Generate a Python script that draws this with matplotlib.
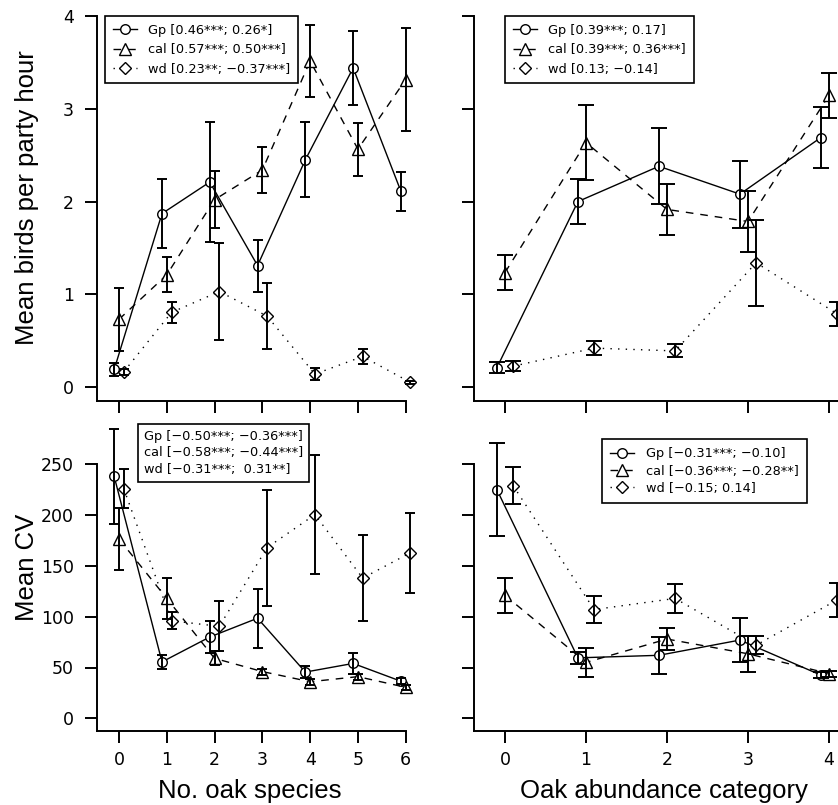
import numpy as np
import matplotlib
matplotlib.use("Agg")
import matplotlib.pyplot as plt
from matplotlib.lines import Line2D

W, H = 838, 805

# x categories
n_species = np.arange(7)
abund_cat = np.arange(5)

# mean birds per party hour vs no. oak species
sp_gp = [0.19, 1.87, 2.21, 1.31, 2.45, 3.44, 2.11]
sp_gp_se = [0.07, 0.37, 0.645, 0.28, 0.405, 0.395, 0.21]
sp_cal = [0.73, 1.21, 2.02, 2.34, 3.515, 2.565, 3.315]
sp_cal_se = [0.34, 0.19, 0.31, 0.25, 0.385, 0.285, 0.555]
sp_wd = [0.165, 0.805, 1.03, 0.765, 0.14, 0.33, 0.05]
sp_wd_se = [0.03, 0.115, 0.52, 0.355, 0.065, 0.08, 0.02]

# mean birds per party hour vs oak abundance category
ab_gp = [0.21, 2.00, 2.38, 2.08, 2.69]
ab_gp_se = [0.06, 0.245, 0.41, 0.36, 0.33]
ab_cal = [1.235, 2.635, 1.915, 1.785, 3.145]
ab_cal_se = [0.185, 0.405, 0.275, 0.325, 0.245]
ab_wd = [0.225, 0.42, 0.39, 1.34, 0.79]
ab_wd_se = [0.055, 0.075, 0.07, 0.465, 0.13]

# mean CV vs no. oak species
cv_sp_gp = [238, 55.5, 80, 98.5, 45.5, 54, 36.5]
cv_sp_gp_se = [47, 7, 15.5, 29, 5.5, 10, 3]
cv_sp_cal = [176.5, 118, 59, 46, 36, 41, 30.5]
cv_sp_cal_se = [30.5, 20, 7, 3, 3, 3, 2.5]
cv_sp_wd = [226, 96, 90.5, 168, 200.5, 138, 163]
cv_sp_wd_se = [19.5, 8.5, 24.5, 57, 58.5, 42, 39.5]

# mean CV vs oak abundance category
cv_ab_gp = [225, 59.5, 62, 77, 42.5]
cv_ab_gp_se = [45.5, 6, 18.5, 22, 3]
cv_ab_cal = [121, 55, 78, 63.5, 44]
cv_ab_cal_se = [17.5, 14, 11, 17.5, 3]
cv_ab_wd = [229, 107, 118, 72, 116.5]
cv_ab_wd_se = [18, 13, 14.5, 9, 16.5]

leg_sp_birds = ["Gp [0.46***; 0.26*]", "cal [0.57***; 0.50***]", "wd [0.23**; \u22120.37***]"]
leg_ab_birds = ["Gp [0.39***; 0.17]", "cal [0.39***; 0.36***]", "wd [0.13; \u22120.14]"]
leg_sp_cv = ["Gp [\u22120.50***; \u22120.36***]", "cal [\u22120.58***; \u22120.44***]",
             "wd [\u22120.31***;  0.31**]"]
leg_ab_cv = ["Gp [\u22120.31***; \u22120.10]", "cal [\u22120.36***; \u22120.28**]", "wd [\u22120.15; 0.14]"]

styles = [
    dict(marker="o", ms=6.9, ls="-", dashes=None, off=-0.1),
    dict(marker="^", ms=8, ls="--", dashes=(5.5, 5), off=0.0),
    dict(marker="D", ms=5.9, ls=":", dashes=(1, 4.5), off=0.1),
]

plt.rcParams["font.family"] = "DejaVu Sans"
fig = plt.figure(figsize=(W / 100, H / 100), dpi=100)


def rect(left, right, top, bottom):
    return [left / W, 1 - bottom / H, (right - left) / W, (bottom - top) / H]


def fpt(x, y):
    return (x / W, 1 - y / H)


def make_handle(st):
    h = Line2D([], [], color="black", lw=1.0, marker=st["marker"], ms=st["ms"],
               mfc="white", mec="black", mew=1.0, ls=st["ls"])
    if st["dashes"]:
        h.set_dashes(st["dashes"])
    return h


def draw_panel(ax, x, means, ses, capsize):
    for st, m, s in zip(styles, means, ses):
        xx = x + st["off"]
        line, = ax.plot(xx, m, color="black", lw=1.0, ls=st["ls"], zorder=2, clip_on=False)
        if st["dashes"]:
            line.set_dashes(st["dashes"])
        ax.plot(xx, m, ls="none", marker=st["marker"], ms=st["ms"], mfc="white",
                mec="black", mew=1.0, zorder=3, clip_on=False)
        eb = ax.errorbar(xx, m, yerr=s, fmt="none", ecolor="black", elinewidth=1.4,
                         capsize=capsize, capthick=1.4, zorder=4)
        for art in list(eb.lines[1]) + list(eb.lines[2]):
            art.set_clip_on(False)
    for side in ["top", "right"]:
        ax.spines[side].set_visible(False)
    for side in ["left", "bottom"]:
        ax.spines[side].set_linewidth(1.4)
    ax.tick_params(direction="out", length=8.6, width=1.4, labelsize=12.5)
    ax.tick_params(axis="y", pad=8)
    ax.tick_params(axis="x", pad=6)
    ax.set_xticks(x)


def add_legend(ax, labels, corner, with_handles=True, bpad=0.55, lspace=0.4):
    if with_handles:
        handles = [make_handle(st) for st in styles]
        kw = dict(handlelength=1.85, handletextpad=0.9)
    else:
        handles = [Line2D([], [], ls="none") for _ in labels]
        kw = dict(handlelength=0, handletextpad=0)
    leg = ax.legend(handles, labels, loc="upper left", bbox_to_anchor=fpt(*corner),
                    bbox_transform=fig.transFigure, borderaxespad=0, fancybox=False,
                    edgecolor="black", framealpha=1, fontsize=9.3, borderpad=bpad,
                    labelspacing=lspace, numpoints=1, **kw)
    leg.get_frame().set_linewidth(1.2)
    leg.set_zorder(10)


# top left
ax1 = fig.add_axes(rect(97, 405.7, 16, 401))
draw_panel(ax1, n_species, [sp_gp, sp_cal, sp_wd], [sp_gp_se, sp_cal_se, sp_wd_se], 3.8)
ax1.set_xlim(-0.46, 6.0)
ax1.set_ylim(-0.15, 4.0)
ax1.set_yticks([0, 1, 2, 3, 4])
ax1.tick_params(axis="x", labelbottom=False)
add_legend(ax1, leg_sp_birds, (105, 16), bpad=0.6, lspace=0.5)

# top right
ax2 = fig.add_axes(rect(474, 869.5, 16, 401))
draw_panel(ax2, abund_cat, [ab_gp, ab_cal, ab_wd], [ab_gp_se, ab_cal_se, ab_wd_se], 5.75)
ax2.set_xlim(-0.383, 4.5)
ax2.set_ylim(-0.15, 4.0)
ax2.set_yticks([0, 1, 2, 3, 4])
ax2.tick_params(axis="x", labelbottom=False)
ax2.tick_params(axis="y", labelleft=False)
add_legend(ax2, leg_ab_birds, (505, 16), bpad=0.6, lspace=0.5)

# bottom left
ax3 = fig.add_axes(rect(97, 405.7, 464.3, 731))
draw_panel(ax3, n_species, [cv_sp_gp, cv_sp_cal, cv_sp_wd],
           [cv_sp_gp_se, cv_sp_cal_se, cv_sp_wd_se], 3.8)
ax3.set_xlim(-0.46, 6.0)
ax3.set_ylim(-12.5, 250)
ax3.set_yticks([0, 50, 100, 150, 200, 250])
add_legend(ax3, leg_sp_cv, (137.7, 424), with_handles=False, bpad=0.45, lspace=0.28)

# bottom right
ax4 = fig.add_axes(rect(474, 869.5, 464.3, 731))
draw_panel(ax4, abund_cat, [cv_ab_gp, cv_ab_cal, cv_ab_wd],
           [cv_ab_gp_se, cv_ab_cal_se, cv_ab_wd_se], 5.75)
ax4.set_xlim(-0.383, 4.5)
ax4.set_ylim(-12.5, 250)
ax4.set_yticks([0, 50, 100, 150, 200, 250])
ax4.tick_params(axis="y", labelleft=False)
add_legend(ax4, leg_ab_cv, (601.7, 439), bpad=0.65, lspace=0.32)

# axis titles
lab = dict(fontsize=18.5, family="Liberation Sans")
fig.text(*fpt(34, 197.5), "Mean birds per party hour", rotation=90, rotation_mode="anchor",
         ha="center", va="baseline", **lab)
fig.text(*fpt(34, 567.5), "Mean CV", rotation=90, rotation_mode="anchor",
         ha="center", va="baseline", **lab)
fig.text(*fpt(249.5, 798), "No. oak species", ha="center", va="baseline", **lab)
fig.text(*fpt(663.5, 798), "Oak abundance category", ha="center", va="baseline", **lab)

fig.savefig("out.png", dpi=100)
